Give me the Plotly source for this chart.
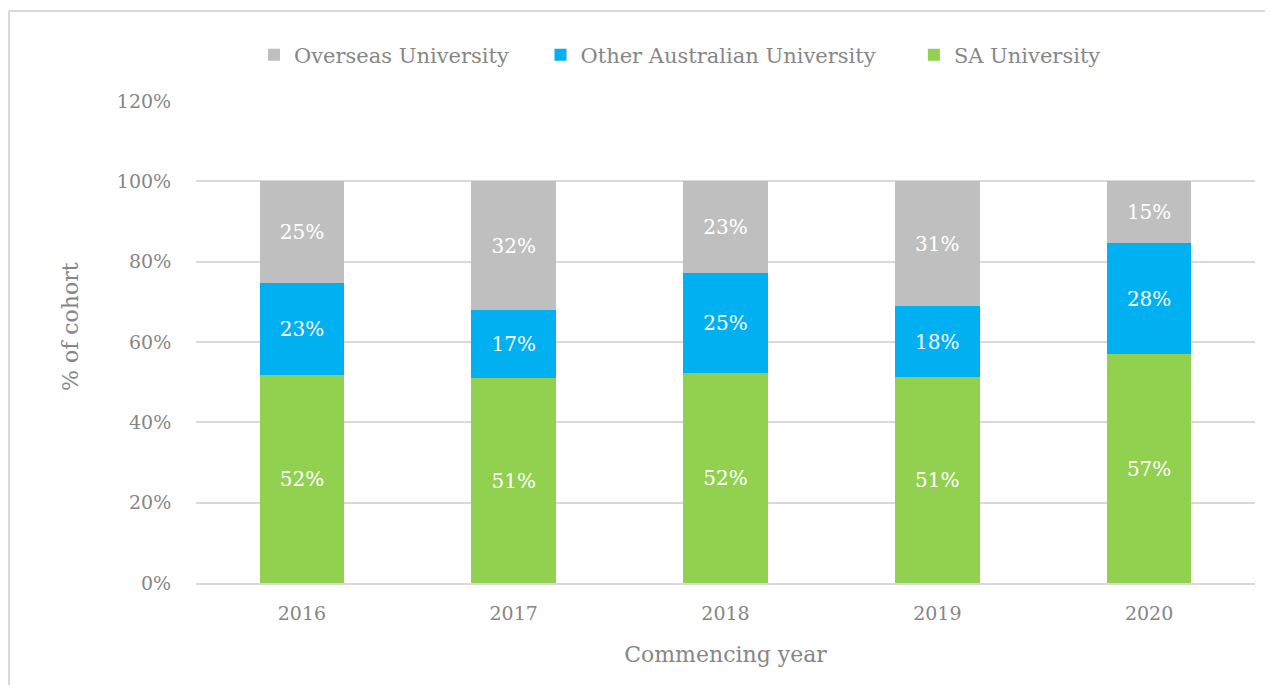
import plotly.graph_objects as go

years = ["2016", "2017", "2018", "2019", "2020"]
sa_university = [51.7, 51.0, 52.2, 51.2, 57.0]
other_australian = [22.9, 16.9, 25.1, 17.7, 27.6]
overseas = [25.4, 32.1, 22.7, 31.1, 15.4]
y_tick_vals = [0, 20, 40, 60, 80, 100, 120]
y_tick_text = ["0%", "20%", "40%", "60%", "80%", "100%", "120%"]

FONT = "Palatino Linotype, Book Antiqua, Palatino, DejaVu Serif, serif"
GREY_TXT = "#868686"
PAD = "\u00a0" * 4

fig = go.Figure()
series = [
    ("SA University", sa_university, "#92d050"),
    ("Other Australian University" + PAD + "\u00a0", other_australian, "#00b0f0"),
    ("Overseas University" + PAD, overseas, "#bfbfbf"),
]
for name, vals, col in series:
    fig.add_trace(go.Bar(
        x=years, y=vals, name=name, marker=dict(color=col, line=dict(width=0)),
        texttemplate="%{y:.0f}%", textposition="inside", insidetextanchor="middle",
        textfont=dict(color="white", size=20, family=FONT),
        hoverinfo="skip",
    ))

# page has an 8px body margin: figure is shifted by 8px right and down
OFF = 8
W, H = 1273 - 2 * OFF, 693 - 2 * OFF
L, T = 188, 93
R = W - (1255 - OFF)
B = H - (583 - OFF)
pw, ph = W - L - R, H - T - B
def px_x(X):
    return (X - OFF - L) / pw
def px_y(Y):
    return (583 - Y) / ph

fig.update_layout(
    width=W, height=H,
    barmode="stack", bargap=0.6,
    margin=dict(l=L, r=R, t=T, b=B),
    paper_bgcolor="white", plot_bgcolor="white",
    font=dict(family=FONT, color=GREY_TXT, size=20),
    legend=dict(orientation="h", x=px_x(680), xanchor="center", y=px_y(55), yanchor="middle",
                traceorder="reversed", font=dict(size=21, color=GREY_TXT),
                itemwidth=30, bgcolor="rgba(0,0,0,0)"),
    showlegend=True,
    xaxis=dict(
        title=dict(text="Commencing year", font=dict(size=22, color=GREY_TXT), standoff=24),
        showline=True, linecolor="#d9d9d9", linewidth=2,
        ticks="outside", ticklen=12, tickcolor="rgba(0,0,0,0)",
        tickfont=dict(size=19, color=GREY_TXT),
        showgrid=False,
    ),
    yaxis=dict(
        range=[0, 120], tickmode="array", tickvals=y_tick_vals, ticktext=y_tick_text,
        showgrid=True, gridcolor="#d9d9d9", gridwidth=1.5,
        zeroline=False,
        ticks="outside", ticklen=20, tickcolor="rgba(0,0,0,0)",
        tickfont=dict(size=19, color=GREY_TXT),
    ),
    annotations=[
        dict(text="% of cohort", xref="paper", yref="paper",
             x=px_x(70), y=px_y(327), xanchor="center", yanchor="middle",
             textangle=-90, showarrow=False, font=dict(size=22, color=GREY_TXT)),
    ],
    shapes=[
        dict(type="line", xref="paper", yref="paper",
             x0=px_x(9), x1=px_x(W + OFF), y0=px_y(11), y1=px_y(11),
             line=dict(color="#d9d9d9", width=2)),
        dict(type="line", xref="paper", yref="paper",
             x0=px_x(9), x1=px_x(9), y0=px_y(11), y1=px_y(H + OFF),
             line=dict(color="#d9d9d9", width=2)),
    ],
)

fig.write_html("out.html")
